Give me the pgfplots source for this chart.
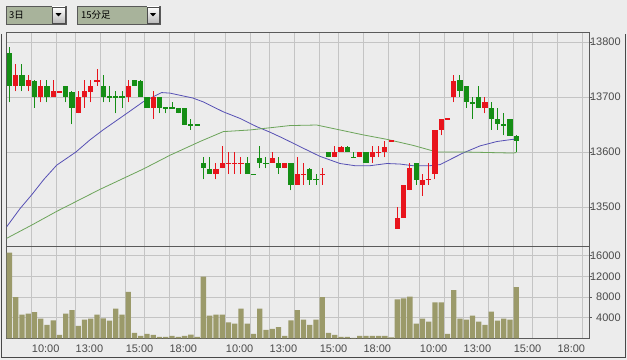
\documentclass[border=0pt]{standalone}
\usepackage{pgfplots}
\pgfplotsset{compat=1.18}
\usepackage{pgfplotstable}
\usepackage{fontspec}
\setmainfont{Liberation Sans}
\newfontfamily\cjk{Noto Sans CJK JP}
\definecolor{bg}{HTML}{ECECEC}
\definecolor{gridc}{HTML}{C4C4C4}
\definecolor{axc}{HTML}{5A5A5A}
\definecolor{cred}{HTML}{E8141C}
\definecolor{cgreen}{HTML}{158E15}
\definecolor{mablue}{HTML}{5650B4}
\definecolor{magreen}{HTML}{6CA45A}
\definecolor{volc}{HTML}{9B9A6A}
\definecolor{boxc}{HTML}{A8B39B}
\definecolor{labc}{HTML}{4A4A4A}

% red (up / red-coloured) candles
\pgfplotstableread{
i O H L C
1 13720 13760 13710 13740
3 13720 13740 13710 13730
5 13700 13730 13690 13720
7 13700 13730 13700 13710
8 13710 13710 13710 13710
11 13670 13710 13670 13700
12 13700 13730 13680 13710
13 13710 13730 13690 13720
14 13730 13750 13720 13730
19 13700 13730 13690 13720
23 13680 13710 13660 13700
33 13560 13580 13550 13570
34 13570 13610 13570 13580
35 13580 13600 13560 13580
36 13580 13600 13560 13580
37 13580 13590 13560 13580
42 13580 13600 13580 13590
44 13570 13580 13570 13580
46 13540 13590 13540 13560
47 13560 13580 13540 13560
50 13560 13570 13540 13560
52 13590 13610 13590 13600
53 13600 13610 13600 13610
56 13590 13600 13590 13600
58 13590 13610 13580 13600
59 13600 13610 13590 13600
60 13600 13620 13590 13610
61 13620 13620 13620 13620
62 13460 13500 13460 13480
63 13480 13540 13480 13540
64 13530 13580 13530 13570
66 13540 13560 13520 13550
67 13550 13580 13540 13550
68 13560 13640 13550 13640
69 13640 13660 13630 13660
70 13660 13660 13660 13660
71 13700 13740 13690 13730
76 13680 13700 13670 13690
}\redc

% green (down / green-coloured) candles
\pgfplotstableread{
i O H L C
0 13780 13790 13690 13720
2 13740 13760 13710 13720
4 13730 13730 13680 13700
6 13720 13730 13690 13700
9 13720 13720 13690 13700
10 13710 13710 13650 13680
15 13720 13740 13690 13700
16 13700 13720 13690 13700
17 13700 13710 13670 13700
18 13700 13710 13680 13700
20 13730 13730 13720 13720
21 13730 13730 13700 13700
22 13700 13700 13680 13680
24 13700 13700 13670 13680
25 13680 13680 13670 13680
26 13680 13690 13680 13680
27 13680 13680 13670 13670
28 13680 13680 13650 13650
29 13650 13660 13640 13650
30 13650 13650 13650 13650
31 13580 13590 13550 13570
32 13570 13590 13560 13560
38 13580 13590 13560 13560
39 13560 13560 13560 13560
40 13590 13610 13570 13580
41 13580 13590 13570 13580
43 13580 13590 13560 13570
45 13580 13580 13530 13540
48 13570 13570 13540 13550
49 13550 13560 13540 13550
51 13600 13600 13590 13590
54 13610 13610 13600 13600
55 13590 13600 13590 13590
57 13600 13600 13580 13580
65 13580 13580 13540 13550
72 13730 13740 13700 13710
73 13720 13720 13680 13690
74 13690 13700 13660 13690
75 13700 13720 13680 13680
77 13680 13690 13640 13660
78 13660 13680 13640 13650
79 13650 13670 13630 13650
80 13660 13660 13630 13630
81 13630 13630 13600 13620
}\greenc

\pgfplotstableread{
i v
0 16590
1 8000
2 4590
3 4790
4 5050
5 3800
6 2620
7 3475
8 650
9 4790
10 5440
11 2430
12 3600
13 3800
14 4590
15 3870
16 3410
17 5770
18 4590
19 8980
20 1050
21 460
22 850
23 650
24 260
25 260
26 460
27 260
28 460
29 720
30 260
31 11930
32 4390
33 4590
34 4590
35 3080
36 2820
37 5770
38 2820
39 850
40 5770
41 1640
42 1840
43 2160
44 460
45 3475
46 5440
47 3600
48 2620
49 3600
50 8000
51 1050
52 650
53 260
54 260
55 100
56 460
57 460
58 460
59 460
60 460
61 200
62 7540
63 7740
64 8070
65 2820
66 3800
67 3210
68 6950
69 6950
70 850
71 9310
72 3800
73 3600
74 4390
75 3210
76 2620
77 5180
78 3410
79 3800
80 3600
81 9900
}\volt

\pgfplotstableread{
x p
-0.43 13464
1.70 13497
3.56 13522
5.50 13550
7.56 13576
10.64 13600
12.88 13622
14.96 13640
18.74 13670
21.35 13691
24.34 13708
25.66 13707
29.34 13698
30.98 13691
34.18 13673
36.85 13661
39.52 13646
41.64 13636
43.72 13625
46.92 13607
49.63 13592
52.83 13579
55.23 13575
57.62 13575
60.34 13579
62.42 13578
64.49 13575
67.21 13575
68.81 13577
72.48 13598
75.20 13611
77.91 13619
80.47 13623
81.00 13622
}\tabmablue

\pgfplotstableread{
x p
-0.43 13443
3.56 13467
7.56 13492
14.48 13532
21.40 13569
25.66 13594
30.46 13619
34.18 13637
38.45 13640
44.84 13648
49.10 13649
52.83 13640
56.56 13631
60.30 13623
64.50 13612
68.28 13600
72.48 13600
80.47 13598
81.00 13599
}\tabmagreen

\pgfplotsset{
  common/.style={
    scale only axis, width=582.6bp,
    xmin=-0.431, xmax=92.67,
    axis line style={axc, line width=0.9bp},
    xmajorgrids, ymajorgrids,
    major grid style={gridc, line width=0.7bp},
    xtick={3.569,7.569,10.569,14.569,18.569,21.569,25.569,29.569,
           34.569,38.569,41.569,45.569,49.569,52.569,56.569,60.569,
           65.569,69.569,72.569,76.569,80.569,83.569,87.569,91.569},
    ytick pos=right, yticklabel pos=right,
    tick align=outside,
    major tick length=2.5bp,
    tick style={axc, line width=0.6bp},
    x tick style={draw=none},
    scaled y ticks=false,
    /pgf/number format/1000 sep={},
    /pgf/number format/assume math mode=true,
    ticklabel style={font=\fontsize{11}{12}\selectfont, text=labc},
    yticklabel style={anchor=east, inner sep=0pt, xshift=29bp},
    xticklabel style={anchor=north west, inner sep=0pt, yshift=-4bp},
  },
  body/.style={draw=none, mark=none, forget plot, error bars/.cd, y dir=both, y explicit, error mark=none,
    error bar style={draw=#1, line width=5.2bp}},
  wick/.style={draw=none, mark=none, forget plot, error bars/.cd, y dir=plus, y explicit, error mark=none,
    error bar style={draw=#1, line width=1bp}},
}

\begin{document}
\begin{tikzpicture}
\fill[bg] (0bp,0bp) rectangle (627bp,360bp);
% selector boxes
\draw[fill=boxc, draw=gray!70!black, line width=0.8bp] (6bp,336bp) rectangle (66bp,354bp);
\draw[top color=white, bottom color=gray!55, draw=gray!60!black, line width=0.6bp] (52bp,337bp) rectangle (65bp,353bp);
\fill[black] (55.5bp,346.8bp) -- (61.5bp,346.8bp) -- (58.5bp,343.6bp) -- cycle;
\node[anchor=west, inner sep=0pt] at (9bp,345bp) {\cjk\fontsize{9.5}{11}\selectfont 3日};
\draw[fill=boxc, draw=gray!70!black, line width=0.8bp] (77bp,336bp) rectangle (160bp,354bp);
\draw[top color=white, bottom color=gray!55, draw=gray!60!black, line width=0.6bp] (147bp,337bp) rectangle (159bp,353bp);
\fill[black] (150bp,346.8bp) -- (156bp,346.8bp) -- (153bp,343.6bp) -- cycle;
\node[anchor=west, inner sep=0pt] at (81bp,345bp) {\cjk\fontsize{9.5}{11}\selectfont 15分足};
% outer frame (left, bottom, right)
\draw[axc!80!black, line width=1bp] (1bp,326bp) -- (1bp,2bp) -- (625.5bp,2bp) -- (625.5bp,326bp);

% price panel
\begin{axis}[common, anchor=south west, at={(6.7bp,114bp)}, height=213.7bp,
  ymin=13429, ymax=13817.6, ytick={13500,13600,13700,13800},
  xticklabels={}]
\addplot[mablue, line width=0.8bp] table[x=x, y=p] {\tabmablue};
\addplot[magreen, line width=0.8bp] table[x=x, y=p] {\tabmagreen};
% wicks
\addplot[wick=cred] table[x=i, y=L, y error plus expr=\thisrow{H}-\thisrow{L}] {\redc};
\addplot[wick=cgreen] table[x=i, y=L, y error plus expr=\thisrow{H}-\thisrow{L}] {\greenc};
% bodies
\addplot[body=cred] table[x=i, y expr=(\thisrow{O}+\thisrow{C})/2, y error expr={max(abs(\thisrow{C}-\thisrow{O})/2,0.9)}] {\redc};
\addplot[body=cgreen] table[x=i, y expr=(\thisrow{O}+\thisrow{C})/2, y error expr={max(abs(\thisrow{C}-\thisrow{O})/2,0.9)}] {\greenc};
\end{axis}

% volume panel
\begin{axis}[common, anchor=south west, at={(6.7bp,21.7bp)}, height=92.3bp,
  ymin=0, ymax=17880, ytick={4000,8000,12000,16000},
  xticklabels={10:00,{},13:00,{},15:00,{},18:00,{},10:00,{},13:00,{},15:00,{},18:00,{},10:00,{},13:00,{},15:00,{},18:00,{}}]
\addplot[ybar, bar width=5.3bp, fill=volc, draw=none] table[x=i, y=v] {\volt};
\end{axis}
\end{tikzpicture}
\end{document}
